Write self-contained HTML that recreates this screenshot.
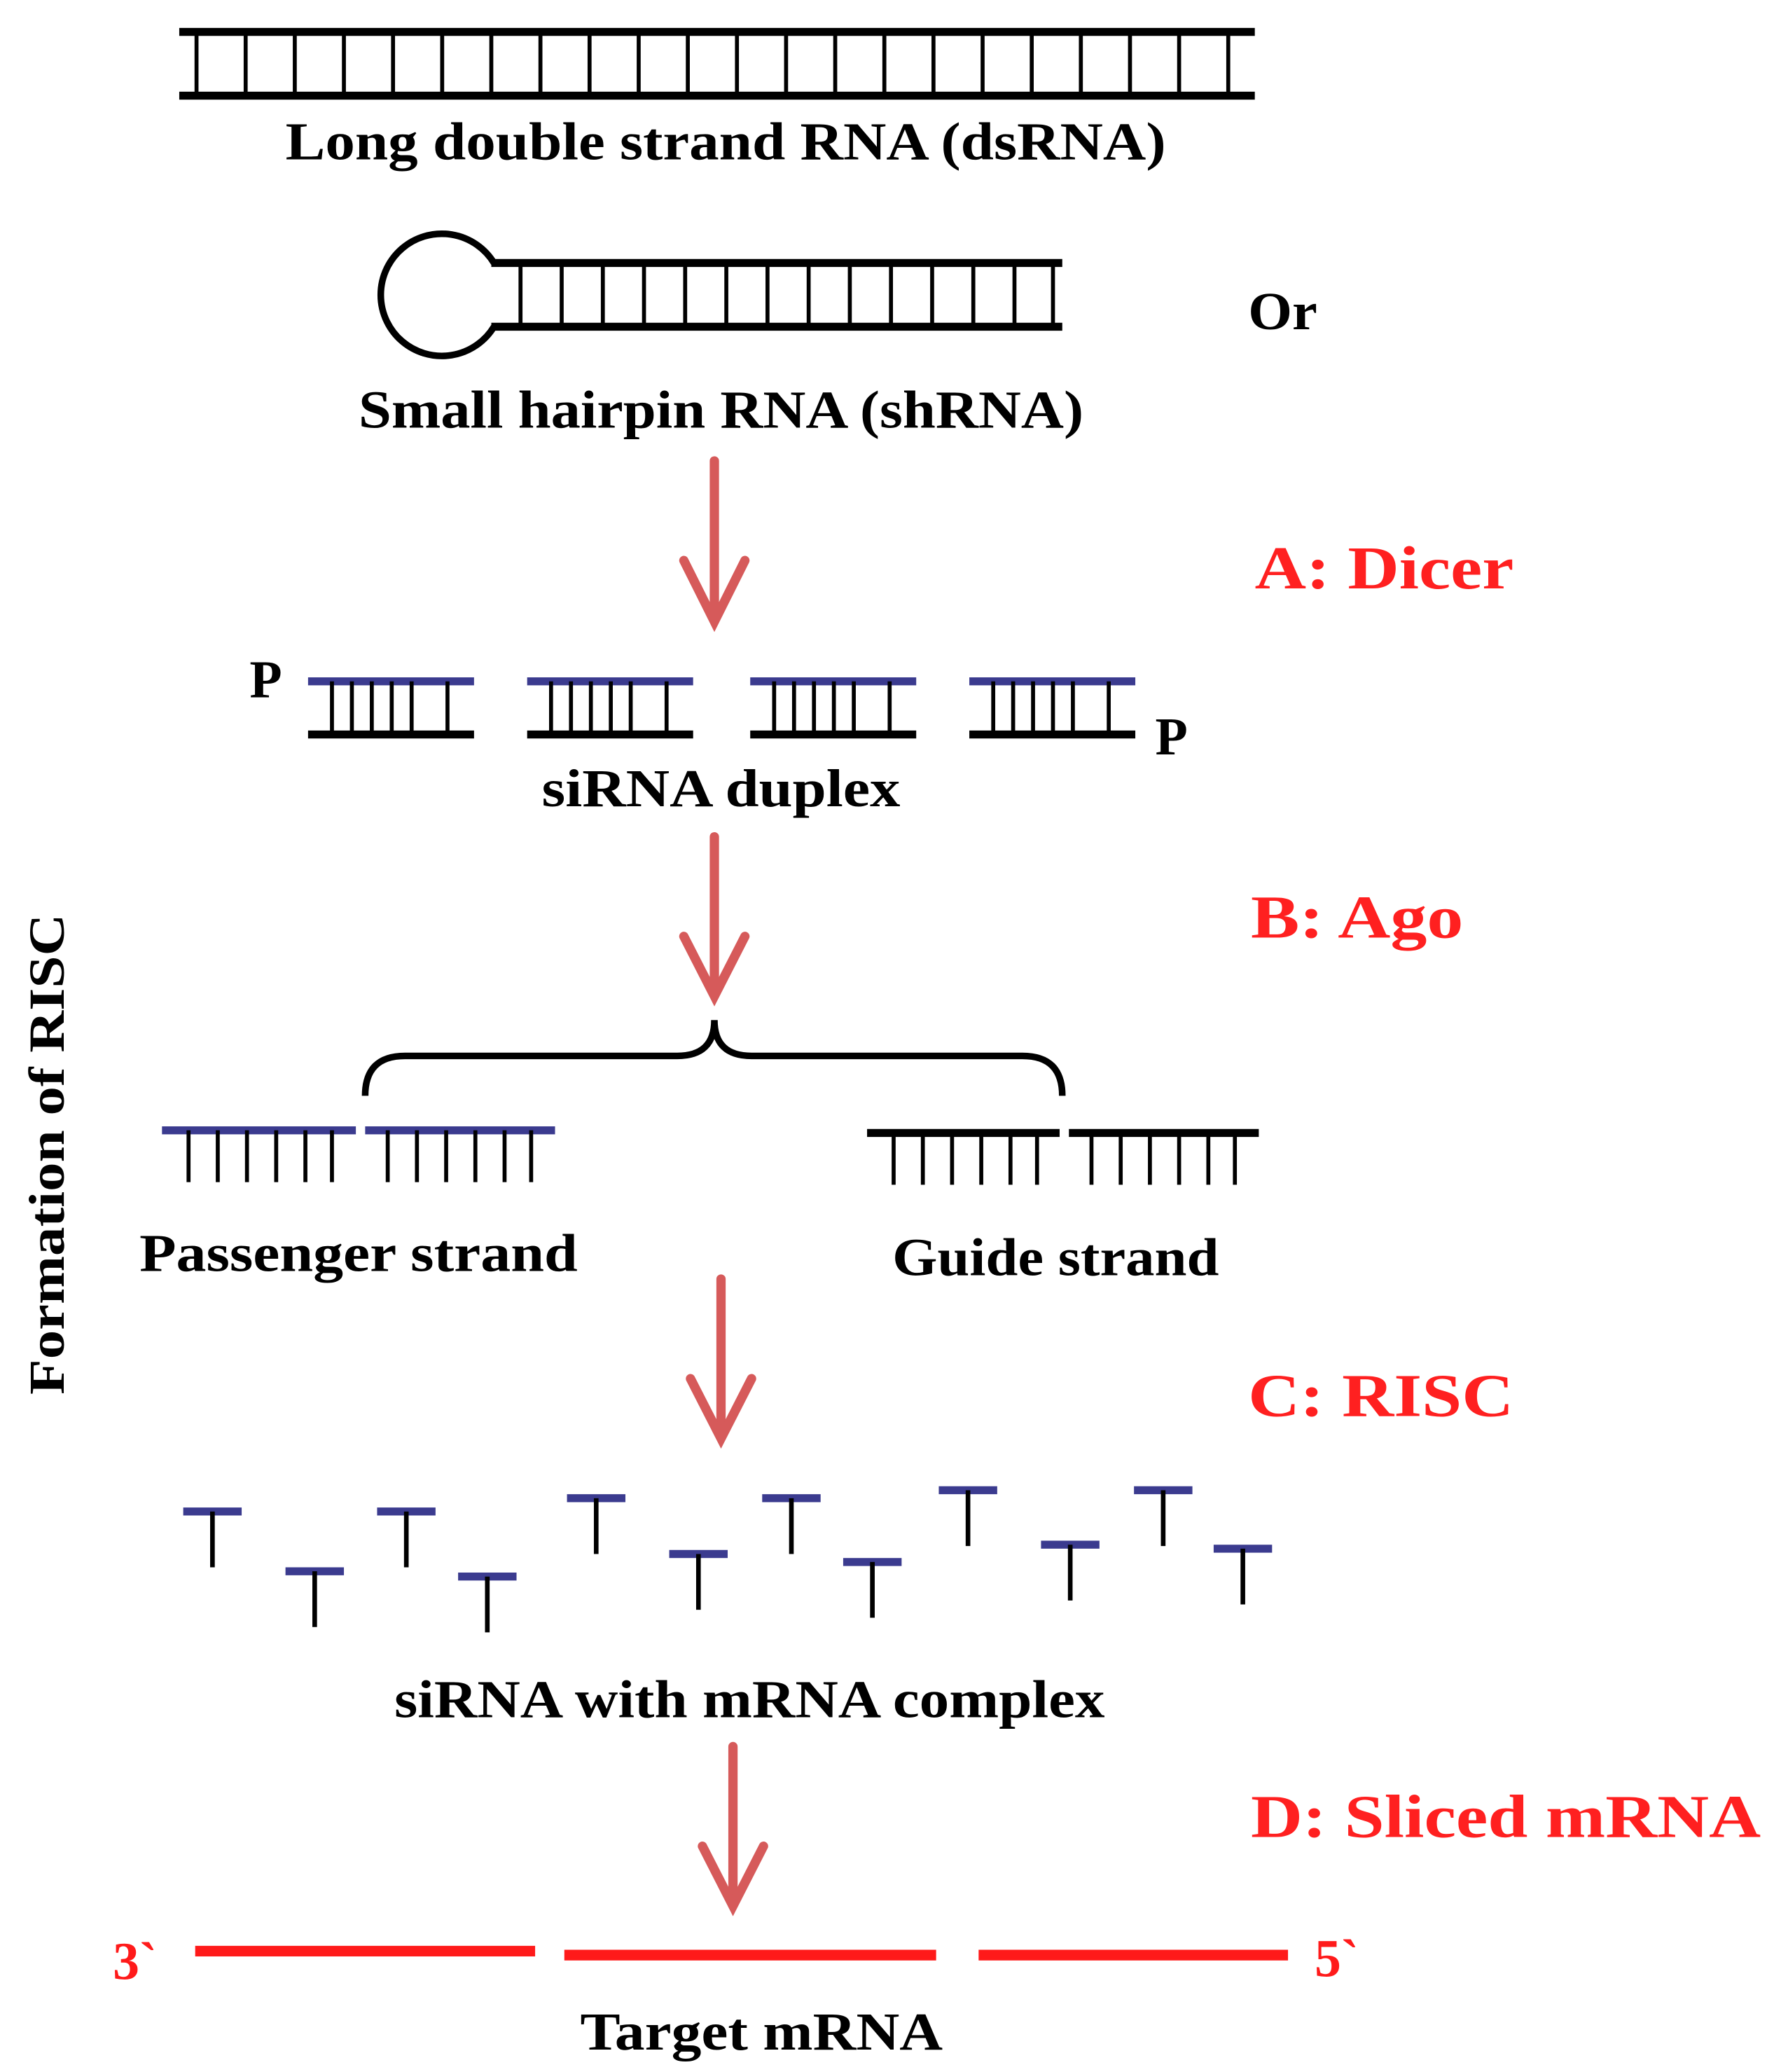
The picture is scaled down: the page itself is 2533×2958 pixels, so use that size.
<!DOCTYPE html>
<html><head><meta charset="utf-8"><style>html,body{margin:0;padding:0;background:#fff}svg{display:block}</style></head>
<body>
<svg width="2533" height="2958" viewBox="0 0 1336 1560" preserveAspectRatio="none" xmlns="http://www.w3.org/2000/svg" font-family="Liberation Serif, serif" font-weight="bold">
<defs>
<g id="t"><line x1="-22" y1="0" x2="22" y2="0" stroke="#3b3b8f" stroke-width="6"/><line x1="0" y1="0" x2="0" y2="42" stroke="#000" stroke-width="3.5"/></g>
</defs>
<rect width="1336" height="1560" fill="#fff"/>
<!-- dsRNA -->
<g stroke="#000">
<line x1="135" y1="24" x2="945" y2="24" stroke-width="6"/>
<line x1="135" y1="72" x2="945" y2="72" stroke-width="6"/>
<g stroke-width="3">
<line x1="148" y1="24" x2="148" y2="72"/><line x1="185" y1="24" x2="185" y2="72"/><line x1="222" y1="24" x2="222" y2="72"/><line x1="259" y1="24" x2="259" y2="72"/><line x1="296" y1="24" x2="296" y2="72"/><line x1="333" y1="24" x2="333" y2="72"/><line x1="370" y1="24" x2="370" y2="72"/><line x1="407" y1="24" x2="407" y2="72"/><line x1="444" y1="24" x2="444" y2="72"/><line x1="481" y1="24" x2="481" y2="72"/><line x1="518" y1="24" x2="518" y2="72"/><line x1="555" y1="24" x2="555" y2="72"/><line x1="592" y1="24" x2="592" y2="72"/><line x1="629" y1="24" x2="629" y2="72"/><line x1="666" y1="24" x2="666" y2="72"/><line x1="703" y1="24" x2="703" y2="72"/><line x1="740" y1="24" x2="740" y2="72"/><line x1="777" y1="24" x2="777" y2="72"/><line x1="814" y1="24" x2="814" y2="72"/><line x1="851" y1="24" x2="851" y2="72"/><line x1="888" y1="24" x2="888" y2="72"/><line x1="925" y1="24" x2="925" y2="72"/>
</g>
</g>
<text x="215" y="120" font-size="40" textLength="663" lengthAdjust="spacingAndGlyphs">Long double strand RNA (dsRNA)</text>
<!-- hairpin -->
<g stroke="#000" fill="none">
<path d="M372 198 A46 46 0 1 0 372 246" stroke-width="5"/>
<line x1="370" y1="198" x2="800" y2="198" stroke-width="6"/>
<line x1="370" y1="246" x2="800" y2="246" stroke-width="6"/>
<g stroke-width="3">
<line x1="392" y1="198" x2="392" y2="246"/><line x1="423" y1="198" x2="423" y2="246"/><line x1="454" y1="198" x2="454" y2="246"/><line x1="485" y1="198" x2="485" y2="246"/><line x1="516" y1="198" x2="516" y2="246"/><line x1="547" y1="198" x2="547" y2="246"/><line x1="578" y1="198" x2="578" y2="246"/><line x1="609" y1="198" x2="609" y2="246"/><line x1="640" y1="198" x2="640" y2="246"/><line x1="671" y1="198" x2="671" y2="246"/><line x1="702" y1="198" x2="702" y2="246"/><line x1="733" y1="198" x2="733" y2="246"/><line x1="764" y1="198" x2="764" y2="246"/><line x1="793" y1="198" x2="793" y2="246"/>
</g>
</g>
<text x="940" y="248" font-size="40" textLength="52" lengthAdjust="spacingAndGlyphs">Or</text>
<text x="270" y="322" font-size="40" textLength="546" lengthAdjust="spacingAndGlyphs">Small hairpin RNA (shRNA)</text>
<!-- arrows -->
<g stroke="#d65a5a" stroke-width="7" fill="none" stroke-linecap="round">
<line x1="538" y1="347" x2="538" y2="466"/><polyline points="515,422 538,468 561,422"/>
<line x1="538" y1="630" x2="538" y2="748"/><polyline points="515,705 538,750 561,705"/>
<line x1="543" y1="963" x2="543" y2="1081"/><polyline points="520,1038 543,1083 566,1038"/>
<line x1="552" y1="1315" x2="552" y2="1433"/><polyline points="529,1390 552,1435 575,1390"/>
</g>
<g fill="#ff2020" font-size="46">
<text x="945" y="443" textLength="195" lengthAdjust="spacingAndGlyphs">A: Dicer</text>
<text x="942" y="706" textLength="160" lengthAdjust="spacingAndGlyphs">B: Ago</text>
<text x="940" y="1066" textLength="200" lengthAdjust="spacingAndGlyphs">C: RISC</text>
<text x="942" y="1383" textLength="384" lengthAdjust="spacingAndGlyphs">D: Sliced mRNA</text>
</g>
<!-- siRNA duplex -->
<g id="d1">
<line x1="232" y1="513" x2="357" y2="513" stroke="#3b3b8f" stroke-width="6"/>
<line x1="232" y1="553" x2="357" y2="553" stroke="#000" stroke-width="6"/>
<g stroke="#000" stroke-width="3"><line x1="250" y1="513" x2="250" y2="553"/><line x1="265" y1="513" x2="265" y2="553"/><line x1="280" y1="513" x2="280" y2="553"/><line x1="295" y1="513" x2="295" y2="553"/><line x1="310" y1="513" x2="310" y2="553"/><line x1="337" y1="513" x2="337" y2="553"/></g>
</g>
<use href="#d1" x="165"/><use href="#d1" x="333"/><use href="#d1" x="498"/>
<text x="188" y="525" font-size="40">P</text>
<text x="870" y="568" font-size="40">P</text>
<text x="408" y="607" font-size="40" textLength="270" lengthAdjust="spacingAndGlyphs">siRNA duplex</text>
<!-- brace -->
<path d="M275 825 Q275 795 305 795 L510 795 Q538 795 538 768 Q538 795 566 795 L770 795 Q800 795 800 825" fill="none" stroke="#000" stroke-width="5"/>
<!-- passenger -->
<g stroke="#3b3b8f" stroke-width="6"><line x1="122" y1="851" x2="268" y2="851"/><line x1="275" y1="851" x2="418" y2="851"/></g>
<g stroke="#000" stroke-width="3">
<line x1="142" y1="851" x2="142" y2="890"/><line x1="164" y1="851" x2="164" y2="890"/><line x1="186" y1="851" x2="186" y2="890"/><line x1="208" y1="851" x2="208" y2="890"/><line x1="230" y1="851" x2="230" y2="890"/><line x1="250" y1="851" x2="250" y2="890"/>
<line x1="292" y1="851" x2="292" y2="890"/><line x1="314" y1="851" x2="314" y2="890"/><line x1="336" y1="851" x2="336" y2="890"/><line x1="358" y1="851" x2="358" y2="890"/><line x1="380" y1="851" x2="380" y2="890"/><line x1="400" y1="851" x2="400" y2="890"/>
</g>
<!-- guide -->
<g stroke="#000" stroke-width="6"><line x1="653" y1="853" x2="798" y2="853"/><line x1="805" y1="853" x2="948" y2="853"/></g>
<g stroke="#000" stroke-width="3">
<line x1="673" y1="853" x2="673" y2="892"/><line x1="695" y1="853" x2="695" y2="892"/><line x1="717" y1="853" x2="717" y2="892"/><line x1="739" y1="853" x2="739" y2="892"/><line x1="761" y1="853" x2="761" y2="892"/><line x1="781" y1="853" x2="781" y2="892"/>
<line x1="822" y1="853" x2="822" y2="892"/><line x1="844" y1="853" x2="844" y2="892"/><line x1="866" y1="853" x2="866" y2="892"/><line x1="888" y1="853" x2="888" y2="892"/><line x1="910" y1="853" x2="910" y2="892"/><line x1="930" y1="853" x2="930" y2="892"/>
</g>
<text x="105" y="957" font-size="40" textLength="330" lengthAdjust="spacingAndGlyphs">Passenger strand</text>
<text x="672" y="960" font-size="40" textLength="246" lengthAdjust="spacingAndGlyphs">Guide strand</text>
<text transform="translate(48,1050) rotate(-90)" font-size="38" textLength="362" lengthAdjust="spacingAndGlyphs">Formation of RISC</text>
<!-- T's -->
<use href="#t" x="160" y="1138"/><use href="#t" x="237" y="1183"/><use href="#t" x="306" y="1138"/><use href="#t" x="367" y="1187"/>
<use href="#t" x="449" y="1128"/><use href="#t" x="526" y="1170"/><use href="#t" x="596" y="1128"/><use href="#t" x="657" y="1176"/>
<use href="#t" x="729" y="1122"/><use href="#t" x="806" y="1163"/><use href="#t" x="876" y="1122"/><use href="#t" x="936" y="1166"/>
<text x="297" y="1293" font-size="40" textLength="535" lengthAdjust="spacingAndGlyphs">siRNA with mRNA complex</text>
<!-- mRNA -->
<g stroke="#ff1a1a" stroke-width="8"><line x1="147" y1="1469" x2="403" y2="1469"/><line x1="425" y1="1472" x2="705" y2="1472"/><line x1="737" y1="1472" x2="970" y2="1472"/></g>
<g fill="#ff1a1a" font-size="40"><text x="85" y="1490">3`</text><text x="990" y="1488">5`</text></g>
<text x="437" y="1543" font-size="40" textLength="273" lengthAdjust="spacingAndGlyphs">Target mRNA</text>
</svg>
</body></html>
